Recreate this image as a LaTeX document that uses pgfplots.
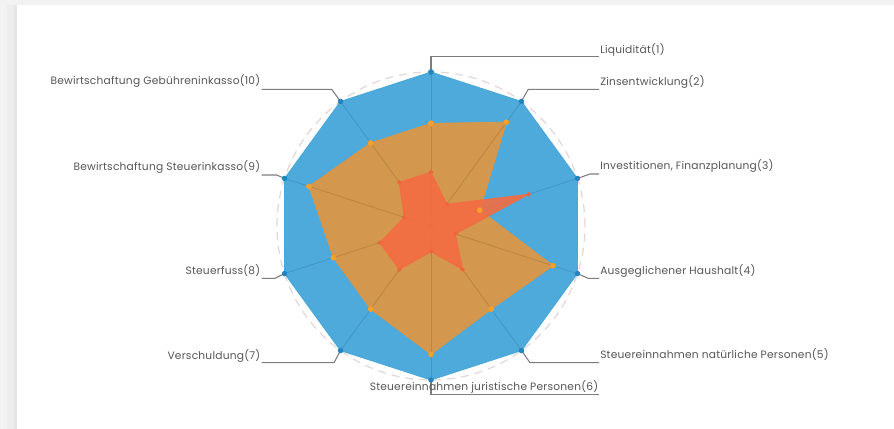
\documentclass[border=0pt]{standalone}
\usepackage{pgfplots}
\pgfplotsset{compat=1.18}
\usepackage{pgfplotstable}
\usepackage{fontspec}
\setmainfont[LetterSpace=2]{Poppins}
\definecolor{cblue}{RGB}{72,168,218}
\definecolor{cbluem}{RGB}{35,132,192}
\definecolor{corange}{RGB}{219,150,70}
\definecolor{corangem}{RGB}{247,160,45}
\definecolor{cred}{RGB}{244,108,66}
\definecolor{credm}{RGB}{240,100,60}
\definecolor{ctext}{RGB}{85,85,85}
\definecolor{cline}{RGB}{125,125,125}
\definecolor{ccircle}{RGB}{228,214,214}

% k, angle (deg), value per series (scale 0..6)
\pgfplotstableread{
k angle blue orange red
0 90 6 4 2.1
1 54 6 5 1.05
2 18 6 2 4
3 -18 6 5 1
4 -54 6 4 2.1
5 -90 6 5 1
6 -126 6 4 2.1
7 -162 6 4 2.1
8 -198 6 5 1.1
9 -234 6 4 2.1
10 -270 6 4 2.1
}\radardata

\begin{document}
\begin{tikzpicture}
\begin{axis}[
  scale only axis, width=670.5pt, height=321.75pt,
  xmin=0, xmax=894, ymin=0, ymax=429, y dir=reverse,
  hide axis, clip=false,
]
% background card
\fill[white!95!black] (axis cs:0,0) rectangle (axis cs:894,429);
\fill[white!93!black] (axis cs:7,0) rectangle (axis cs:14,429);
\fill[white!90!black] (axis cs:14,0) rectangle (axis cs:17,429);
\fill[white!95!black] (axis cs:0,0) rectangle (axis cs:894,5);
\fill[white] (axis cs:17,5) rectangle (axis cs:894,429);

% dashed outer circle
\draw[ccircle, line width=0.9pt, dash pattern=on 6pt off 4.5pt] (axis cs:431,226) circle[radius=115.5pt];

% series
\addplot[draw=cblue, fill=cblue, fill opacity=0.97, line width=0.6pt, mark=*, mark size=1.7pt, mark options={fill=cbluem, draw=cbluem, fill opacity=1}]
  table[x expr={431+154/6*\thisrow{blue}*cos(\thisrow{angle})}, y expr={226-154/6*\thisrow{blue}*sin(\thisrow{angle})}] {\radardata};
\addplot[draw=corange, fill=corange, fill opacity=0.95, line width=0.6pt, mark=*, mark size=1.8pt, mark options={fill=corangem, draw=corangem, fill opacity=1}]
  table[x expr={431+154/6*\thisrow{orange}*cos(\thisrow{angle})}, y expr={226-154/6*\thisrow{orange}*sin(\thisrow{angle})}] {\radardata};

% spokes
\pgfplotsinvokeforeach{90,54,18,-18,-54,-90,-126,-162,-198,-234}{
  \draw[black, opacity=0.12, line width=0.6pt] (axis cs:431,226) -- (axis cs:{431+154*cos(#1)},{226-154*sin(#1)});
}

\addplot[draw=cred, fill=cred, fill opacity=0.9, line width=0.6pt, mark=*, mark size=1.3pt, mark options={fill=credm, draw=credm, fill opacity=1}]
  table[x expr={431+154/6*\thisrow{red}*cos(\thisrow{angle})}, y expr={226-154/6*\thisrow{red}*sin(\thisrow{angle})}] {\radardata};

% leader lines
\begin{scope}[cline, line width=0.8pt]
\draw (axis cs:431,72) -- (axis cs:431,56.7) -- (axis cs:599,56.7);
\draw (axis cs:521.5,101) -- (axis cs:528.3,89.3) -- (axis cs:599,89.3);
\draw (axis cs:577.5,178.4) -- (axis cs:590,174) -- (axis cs:599,174);
\draw (axis cs:577.5,273.6) -- (axis cs:588.3,278.3) -- (axis cs:599,278.3);
\draw (axis cs:521.5,350.6) -- (axis cs:530,362.7) -- (axis cs:599,362.7);
\draw (axis cs:431,380) -- (axis cs:431,394.5) -- (axis cs:599,394.5);
\draw (axis cs:340.5,101.4) -- (axis cs:331.7,89.3) -- (axis cs:261.7,89.3);
\draw (axis cs:284.5,178.4) -- (axis cs:276.7,175) -- (axis cs:261.7,175);
\draw (axis cs:284.5,273.6) -- (axis cs:275,278.3) -- (axis cs:261.7,278.3);
\draw (axis cs:340.5,350.6) -- (axis cs:334,362.7) -- (axis cs:261.7,362.7);
\end{scope}

% labels
\begin{scope}[every node/.style={text=ctext, inner sep=0pt, font=\fontsize{8}{9.6}\selectfont}]
\node[anchor=west] at (axis cs:600,50) {Liquidität(1)};
\node[anchor=west] at (axis cs:600,81.7) {Zinsentwicklung(2)};
\node[anchor=west] at (axis cs:600,166) {Investitionen, Finanzplanung(3)};
\node[anchor=west] at (axis cs:600,270.7) {Ausgeglichener Haushalt(4)};
\node[anchor=west] at (axis cs:600,355) {Steuereinnahmen natürliche Personen(5)};
\node[anchor=east] at (axis cs:598.5,387) {Steuereinnahmen juristische Personen(6)};
\node[anchor=east] at (axis cs:260.5,80.7) {Bewirtschaftung Gebühreninkasso(10)};
\node[anchor=east] at (axis cs:260.5,167.3) {Bewirtschaftung Steuerinkasso(9)};
\node[anchor=east] at (axis cs:260.5,270.7) {Steuerfuss(8)};
\node[anchor=east] at (axis cs:260.5,356) {Verschuldung(7)};
\end{scope}
\end{axis}
\end{tikzpicture}
\end{document}
